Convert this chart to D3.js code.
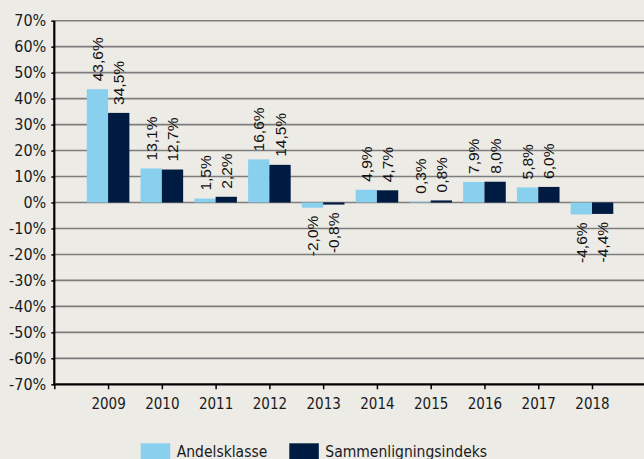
<!DOCTYPE html>
<html><head><meta charset="utf-8">
<script src="https://cdn.jsdelivr.net/npm/d3@7/dist/d3.min.js"></script>
<style>
html,body{margin:0;padding:0;background:#edebe6;}
svg{display:block;}
</style></head>
<body>
<svg id="c" width="644" height="459"></svg>
<script>
const years = ["2009","2010","2011","2012","2013","2014","2015","2016","2017","2018"];
const andelsklasse = [43.6, 13.1, 1.5, 16.6, -2.0, 4.9, 0.3, 7.9, 5.8, -4.6];
const sammenligning = [34.5, 12.7, 2.2, 14.5, -0.8, 4.7, 0.8, 8.0, 6.0, -4.4];
const yTicks = [70,60,50,40,30,20,10,0,-10,-20,-30,-40,-50,-60,-70];
const seriesNames = ["Andelsklasse","Sammenligningsindeks"];
const colors = ["#89cfee","#001b42"];

const svg = d3.select("#c");
const W = 644, H = 459;
const axX = 54.3;
const y = d3.scaleLinear().domain([-70,70]).range([384.3,20.7]);
const x = d3.scalePoint().domain(["", ...years]).range([axX, 592]);
const barW = 21.3;
const tickFont = "'DejaVu Sans Condensed','DejaVu Sans',sans-serif";
const fmt = v => v.toFixed(1).replace(".", ",") + "%";

// gridlines
svg.append("g").selectAll("line").data(yTicks.filter(t=>t>-70)).join("line")
  .attr("x1", axX).attr("x2", W)
  .attr("y1", d=>y(d)).attr("y2", d=>y(d))
  .attr("stroke", "#7d7d7d").attr("stroke-width", 1.6);

// bars
const series = [andelsklasse, sammenligning];
series.forEach((vals, si) => {
  svg.append("g").selectAll("rect").data(vals).join("rect")
    .attr("x", (d,i)=> x(years[i]) - barW + si*barW)
    .attr("width", barW)
    .attr("y", d => y(Math.max(0,d)))
    .attr("height", d => Math.abs(y(d)-y(0)))
    .attr("fill", colors[si]);
});

// data labels
const capH = 11.2;
series.forEach((vals, si) => {
  svg.append("g").selectAll("text").data(vals).join("text")
    .attr("transform", (d,i)=> {
      const cx = x(years[i]) - barW/2 + si*barW;
      const yy = d >= 0 ? y(d) - 8 : y(d) + 8;
      return `translate(${cx + capH/2},${yy}) rotate(-90)`;
    })
    .attr("text-anchor", d => d >= 0 ? "start" : "end")
    .attr("font-family", "'Liberation Sans',Arial,sans-serif")
    .attr("font-size", 15.5)
    .attr("fill", "#111")
    .text(d => fmt(d));
});

// y axis
const yAxis = d3.axisLeft(y).tickValues(yTicks).tickSize(3).tickPadding(5)
  .tickFormat(d => d + "%");
const gy = svg.append("g").attr("transform", `translate(${axX},0)`).call(yAxis);
gy.select(".domain").remove();
gy.selectAll(".tick line").attr("stroke", "#000").attr("stroke-width", 1.5);
gy.selectAll(".tick text").attr("font-family", tickFont).attr("font-size", 16).attr("fill", "#1a1a1a");
svg.append("line").attr("x1", axX).attr("x2", axX).attr("y1", y(70)).attr("y2", y(-70)+1)
  .attr("stroke", "#000").attr("stroke-width", 2.2);

// x axis
const xAxis = d3.axisBottom(x).tickSize(5).tickPadding(9);
const gx = svg.append("g").attr("transform", `translate(0,${y(-70)})`).call(xAxis);
gx.select(".domain").remove();
gx.selectAll(".tick line").attr("stroke", "#000").attr("stroke-width", 1.5);
gx.selectAll(".tick text").attr("font-family", tickFont).attr("font-size", 15).attr("fill", "#1a1a1a");
svg.append("line").attr("x1", axX-1).attr("x2", W).attr("y1", y(-70)).attr("y2", y(-70))
  .attr("stroke", "#000").attr("stroke-width", 2.2);

// legend
const legX = [140.7, 289.3];
const lg = svg.append("g");
seriesNames.forEach((n, i) => {
  lg.append("rect").attr("x", legX[i]).attr("y", 443.3).attr("width", 29.5).attr("height", 16)
    .attr("fill", colors[i]);
  lg.append("text").attr("x", legX[i] + 36).attr("y", 456.5)
    .attr("font-family", tickFont).attr("font-size", 15.5).attr("fill", "#1a1a1a").text(n);
});
</script>
</body></html>
